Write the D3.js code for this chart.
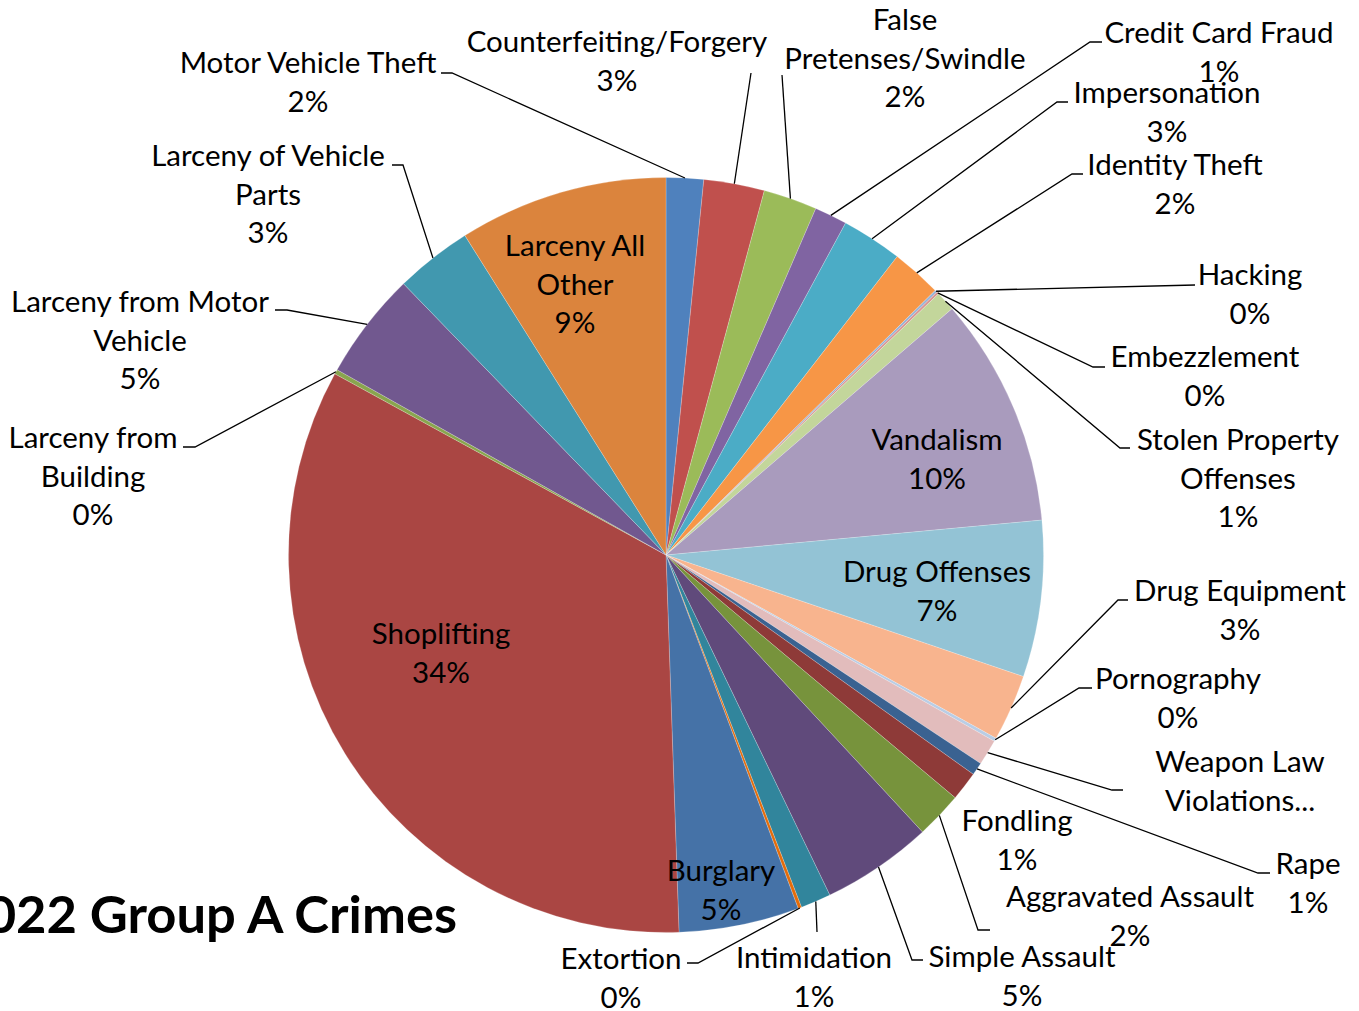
<!DOCTYPE html>
<html>
<head>
<meta charset="utf-8">
<script src="https://cdn.jsdelivr.net/npm/d3@7"></script>
<style>
  html, body { margin: 0; padding: 0; background: #fff; overflow: hidden; }
  text { font-family: Lato, "Open Sans", sans-serif; fill: #000; }
</style>
</head>
<body>
<div id="pieChart"></div>
<script>
//// DATA
// slices in clockwise order from 12 o'clock
const categories = [
  'Motor Vehicle Theft', 'Counterfeiting/Forgery', 'False Pretenses/Swindle',
  'Credit Card Fraud', 'Impersonation', 'Identity Theft', 'Hacking',
  'Embezzlement', 'Stolen Property Offenses', 'Vandalism', 'Drug Offenses',
  'Drug Equipment', 'Pornography', 'Weapon Law Violations', 'Rape', 'Fondling',
  'Aggravated Assault', 'Simple Assault', 'Intimidation', 'Extortion',
  'Burglary', 'Shoplifting', 'Larceny from Building',
  'Larceny from Motor Vehicle', 'Larceny of Vehicle Parts', 'Larceny All Other'
];
// offence counts
const counts = [
  32, 52, 46, 28, 52, 43, 2, 2, 17, 197, 134, 57, 3, 22, 11, 25,
  40, 95, 26, 3, 103, 671, 4, 92, 66, 179
];
// label text as it is wrapped in the chart
const labelLines = [
  ['Motor Vehicle Theft'], ['Counterfeiting/Forgery'], ['False', 'Pretenses/Swindle'],
  ['Credit Card Fraud'], ['Impersonation'], ['Identity Theft'], ['Hacking'],
  ['Embezzlement'], ['Stolen Property', 'Offenses'], ['Vandalism'], ['Drug Offenses'],
  ['Drug Equipment'], ['Pornography'], ['Weapon Law', 'Violations...'], ['Rape'], ['Fondling'],
  ['Aggravated Assault'], ['Simple Assault'], ['Intimidation'], ['Extortion'],
  ['Burglary'], ['Shoplifting'], ['Larceny from', 'Building'],
  ['Larceny from Motor', 'Vehicle'], ['Larceny of Vehicle', 'Parts'], ['Larceny All', 'Other']
];
// labels whose percentage got cut off
const hidePct = ['Weapon Law Violations'];
const chartTitle = '2022 Group A Crimes';

//// STYLE
const colors = [
  '#4F81BD', '#C0504D', '#9BBB59', '#8064A2', '#4BACC6', '#F79646',
  '#95B3D7', '#D99694', '#C3D69B', '#A99BBD', '#93C3D5', '#F8B48E',
  '#B9CDE5', '#E2BCBC', '#3A6291', '#8E3A38', '#77933C', '#604A7B',
  '#31859C', '#E46C0A', '#4572A7', '#AA4643', '#89A54E', '#71588F',
  '#4198AF', '#DB843D'
];

//// LABEL LAYOUT
// [centre x, first baseline y]
const labelPos = [
  [308, 73], [617, 52], [905, 30], [1219, 43], [1167, 103], [1175, 175],
  [1250, 285], [1205, 367], [1238, 450], [937, 450], [937, 582], [1240, 601],
  [1178, 689], [1240, 772], [1308, 874], [1017, 831], [1130, 907], [1022, 967],
  [814, 968], [621, 969], [721, 881], [441, 644], [93, 448], [140, 312],
  [268, 166], [575, 256]
];
// leader line ends near label: [x, y, stub end x] (null = no leader)
const leaderEnd = [
  [452, 73, 441], [751, 73, null], [782, 75, null], [1090, 42, 1102],
  [1057, 102, 1068], [1072, 174, 1083], [1195, 285, null], [1093, 367, 1105],
  [1120, 448, 1130], null, null, [1118, 600, 1128],
  [1079, 688, 1092], [1112, 790, 1123], [1258, 873, 1270], null,
  [978, 930, 990], [912, 960, 923], [817, 932, null], [698, 963, 687],
  null, null, [195, 447, 183], [287, 310, 275],
  [403, 165, 392], null
];

document.addEventListener('DOMContentLoaded', function(){
  drawChart();
});

function drawChart(){
  // CONST
  const chartParam = {
    width: 1359,
    height: 1011,
    cx: 666,
    cy: 555,
    radius: 377.5,
    lineHeight: 38.7,
    fontSize: 29.5
  };

  const svg = d3.select('#pieChart')
                .append('svg')
                .attr('width', chartParam.width)
                .attr('height', chartParam.height);

  const total = d3.sum(counts);
  const data = categories.map((c, i) => ({ name: c, value: counts[i], idx: i }));

  const pie = d3.pie()
                .value(d => d.value)
                .sort(null);
  const arcs = pie(data);

  const arc = d3.arc()
                .innerRadius(0)
                .outerRadius(chartParam.radius);
  // edge arc, centroid falls on the rim
  const rim = d3.arc()
                .innerRadius(chartParam.radius)
                .outerRadius(chartParam.radius);

  const color = d3.scaleOrdinal()
                  .domain(categories)
                  .range(colors);

  const g = svg.append('g')
               .attr('transform', `translate(${chartParam.cx},${chartParam.cy})`);

  // slices
  g.selectAll('.slice')
   .data(arcs).enter()
   .append('path')
     .classed('slice', true)
     .attr('d', arc)
     .style('fill', d => color(d.data.name))
     .style('stroke', 'rgba(255,255,255,0.35)')
     .style('stroke-width', 0.6);

  // leader lines
  const lines = svg.append('g').classed('leaders', true);
  arcs.forEach(function(d, i){
    const e = leaderEnd[i];
    if(!e) return;
    const p = rim.centroid(d);
    const pts = [[p[0] + chartParam.cx, p[1] + chartParam.cy], [e[0], e[1]]];
    if(e[2] !== null) pts.push([e[2], e[1]]);
    lines.append('path')
         .attr('d', d3.line()(pts))
         .style('fill', 'none')
         .style('stroke', '#000')
         .style('stroke-width', 1.3);
  });

  // data labels
  const labels = svg.append('g').classed('labels', true);
  arcs.forEach(function(d, i){
    const pct = Math.round(d.data.value / total * 100) + '%';
    const rows = labelLines[i].slice();
    if(hidePct.indexOf(d.data.name) < 0) rows.push(pct);
    const t = labels.append('text')
                    .attr('text-anchor', 'middle')
                    .style('font-size', chartParam.fontSize + 'px');
    rows.forEach(function(r, k){
      t.append('tspan')
       .attr('x', labelPos[i][0])
       .attr('y', labelPos[i][1] + k * chartParam.lineHeight)
       .text(r);
    });
  });

  // title (runs off the left edge)
  svg.append('text')
     .attr('x', 457)
     .attr('y', 933)
     .attr('text-anchor', 'end')
     .style('font-size', '52.5px')
     .style('font-weight', 'bold')
     .text(chartTitle);
}
</script>
</body>
</html>
